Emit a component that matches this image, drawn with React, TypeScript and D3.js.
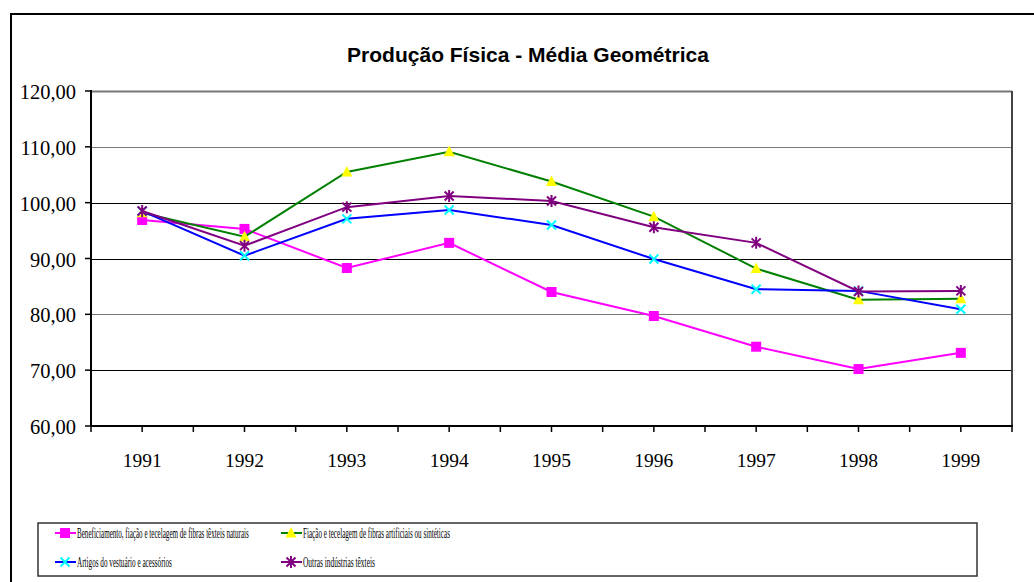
import React, { useLayoutEffect, useRef, useState } from "react";
import * as d3 from "d3";

const years = ["1991", "1992", "1993", "1994", "1995", "1996", "1997", "1998", "1999"];
const naturais = [96.9, 95.3, 88.3, 92.8, 84.0, 79.7, 74.2, 70.2, 73.1];
const artificiais = [98.2, 93.9, 105.5, 109.1, 103.8, 97.5, 88.2, 82.6, 82.8];
const vestuario = [98.5, 90.5, 97.1, 98.7, 96.0, 89.9, 84.5, 84.2, 80.9];
const outras = [98.5, 92.3, 99.2, 101.2, 100.3, 95.6, 92.8, 84.1, 84.2];
const yTicks = [60, 70, 80, 90, 100, 110, 120];

const series = [
  { name: "Beneficiamento, fiação e tecelagem de fibras têxteis naturais", values: naturais, line: "#FF00FF", marker: "square", mcolor: "#FF00FF", tl: 172 },
  { name: "Fiação e tecelagem de fibras artificiais ou sintéticas", values: artificiais, line: "#008000", marker: "triangle", mcolor: "#FFFF00", tl: 147 },
  { name: "Artigos do vestuário e acessórios", values: vestuario, line: "#0000FF", marker: "x", mcolor: "#00FFFF", tl: 95 },
  { name: "Outras indústrias têxteis", values: outras, line: "#800080", marker: "star", mcolor: "#800080", tl: 72 },
];

const plot = { left: 91, right: 1012, top: 91, bottom: 426 };

const Marker = ({ type, color, x, y }: { type: string; color: string; x: number; y: number }) => {
  if (type === "square") return <rect x={x - 5} y={y - 5} width={10} height={10} fill={color} />;
  if (type === "triangle")
    return <path d={`M${x},${y - 6}L${x + 5.5},${y + 4.5}L${x - 5.5},${y + 4.5}Z`} fill={color} />;
  if (type === "x")
    return (
      <path d={`M${x - 4.5},${y - 4.5}L${x + 4.5},${y + 4.5}M${x - 4.5},${y + 4.5}L${x + 4.5},${y - 4.5}`} stroke={color} strokeWidth={2} />
    );
  return (
    <path
      d={`M${x - 4.5},${y - 4.5}L${x + 4.5},${y + 4.5}M${x - 4.5},${y + 4.5}L${x + 4.5},${y - 4.5}M${x},${y - 6}L${x},${y + 6}`}
      stroke={color}
      strokeWidth={2}
    />
  );
};

export default function App() {
  const x = d3.scaleBand().domain(years).range([plot.left, plot.right]);
  const y = d3.scaleLinear().domain([60, 120]).range([plot.bottom, plot.top]);
  const cx = (d: string) => (x(d) as number) + x.bandwidth() / 2;
  const line = d3
    .line<number>()
    .x((_, i) => cx(years[i]))
    .y((v) => y(v));

  const halfTicks = d3.range(0, years.length * 2 + 1).map((i) => plot.left + (i * x.bandwidth()) / 2);

  const legendPos = [
    { lx: 55, ly: 533 },
    { lx: 281, ly: 533 },
    { lx: 55, ly: 562 },
    { lx: 281, ly: 562 },
  ];

  // legend text in the original is a very narrow serif, squeeze it horizontally
  const textRefs = useRef<(SVGTextElement | null)[]>([]);
  const [scales, setScales] = useState([1, 1, 1, 1]);
  useLayoutEffect(() => {
    const s = series.map((d, i) => {
      const el = textRefs.current[i];
      if (!el) return 1;
      return d.tl / el.getComputedTextLength();
    });
    setScales(s);
  }, []);

  return (
    <svg width={1034} height={582} style={{ position: "absolute", left: 0, top: 0, background: "#fff" }}>
      <rect x={11} y={14} width={1100} height={700} fill="#fff" stroke="#000" strokeWidth={2} />
      <text x={528} y={62} textAnchor="middle" fontFamily="Liberation Sans, Arial" fontWeight="bold" fontSize={21}>
        Produção Física - Média Geométrica
      </text>

      {/* grid */}
      {yTicks.slice(1).map((t) => (
        <line
          key={t}
          x1={plot.left}
          x2={plot.right}
          y1={Math.round(y(t)) + 0.5}
          y2={Math.round(y(t)) + 0.5}
          stroke={t === 120 || t === 110 || t === 80 ? "#777" : "#000"}
          strokeWidth={t === 120 ? 2 : 1}
        />
      ))}
      <line x1={plot.right} x2={plot.right} y1={plot.top} y2={plot.bottom} stroke="#444" strokeWidth={2} />

      {/* y axis */}
      <line x1={plot.left} x2={plot.left} y1={plot.top - 1} y2={plot.bottom + 1} stroke="#000" strokeWidth={2} />
      {yTicks.map((t) => (
        <g key={t}>
          <line x1={plot.left - 6} x2={plot.left} y1={y(t)} y2={y(t)} stroke="#000" strokeWidth={1.5} />
          <text x={76} y={y(t) + 8} textAnchor="end" fontFamily="Liberation Serif, Times New Roman" fontSize={20.5}>
            {d3.format(".2f")(t).replace(".", ",")}
          </text>
        </g>
      ))}

      {/* x axis */}
      <line x1={plot.left - 1} x2={plot.right + 1} y1={plot.bottom} y2={plot.bottom} stroke="#000" strokeWidth={2} />
      {halfTicks.map((t, i) => (
        <line key={i} x1={t} x2={t} y1={plot.bottom} y2={plot.bottom + 6} stroke="#000" strokeWidth={1.5} />
      ))}
      {years.map((d) => (
        <text key={d} x={cx(d)} y={467} textAnchor="middle" fontFamily="Liberation Serif, Times New Roman" fontSize={19.5}>
          {d}
        </text>
      ))}

      {/* series */}
      {series.map((s) => (
        <g key={s.name}>
          <path d={line(s.values) as string} fill="none" stroke={s.line} strokeWidth={2} />
          {s.values.map((v, i) => (
            <Marker key={i} type={s.marker} color={s.mcolor} x={cx(years[i])} y={y(v)} />
          ))}
        </g>
      ))}

      {/* legend */}
      <rect x={38} y={523} width={939} height={53} fill="#fff" stroke="#333" strokeWidth={1.5} />
      {series.map((s, i) => {
        const p = legendPos[i];
        return (
          <g key={s.name}>
            <line x1={p.lx} x2={p.lx + 21} y1={p.ly} y2={p.ly} stroke={s.line} strokeWidth={2} />
            <Marker type={s.marker} color={s.mcolor} x={p.lx + 10} y={p.ly} />
            <text
              ref={(el) => {
                textRefs.current[i] = el;
              }}
              transform={`translate(${p.lx + 22},${p.ly + 5}) scale(${scales[i]},1)`}
              fontFamily="Liberation Serif, Times New Roman"
              fontSize={15}
            >
              {s.name}
            </text>
          </g>
        );
      })}
    </svg>
  );
}
